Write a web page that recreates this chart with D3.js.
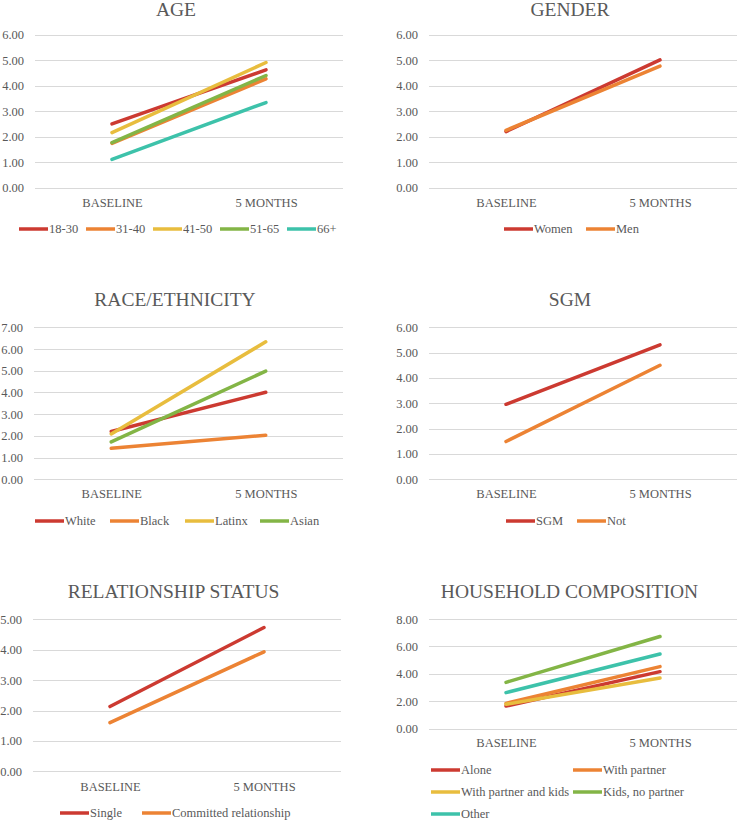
<!DOCTYPE html>
<html>
<head>
<meta charset="utf-8">
<script src="https://cdn.jsdelivr.net/npm/d3@7"></script>
<style>
  html, body { margin: 0; padding: 0; background: #fff; }
  svg { display: block; }
  text { font-family: "Liberation Serif", "Times New Roman", serif; fill: #595959; }
</style>
</head>
<body>
<svg id="chart" width="738" height="820"></svg>
<script>
// ---------- DATA ----------
const categories = ["BASELINE", "5 MONTHS"];

const ageGroups = ["18-30", "31-40", "41-50", "51-65", "66+"];
const ageValues = [[2.50, 4.62], [1.74, 4.27], [2.16, 4.91], [1.77, 4.40], [1.11, 3.34]];

const genderGroups = ["Women", "Men"];
const genderValues = [[2.20, 5.01], [2.25, 4.77]];

const raceGroups = ["White", "Black", "Latinx", "Asian"];
const raceValues = [[2.20, 4.01], [1.43, 2.03], [2.09, 6.33], [1.72, 4.98]];

const sgmGroups = ["SGM", "Not"];
const sgmValues = [[2.96, 5.31], [1.49, 4.50]];

const relGroups = ["Single", "Committed relationship"];
const relValues = [[2.13, 4.73], [1.60, 3.93]];

const houseGroups = ["Alone", "With partner", "With partner and kids", "Kids, no partner", "Other"];
const houseValues = [[1.65, 4.16], [1.85, 4.53], [1.78, 3.70], [3.38, 6.72], [2.63, 5.45]];

const ageTicks = [0, 1, 2, 3, 4, 5, 6];
const genderTicks = [0, 1, 2, 3, 4, 5, 6];
const raceTicks = [0, 1, 2, 3, 4, 5, 6, 7];
const sgmTicks = [0, 1, 2, 3, 4, 5, 6];
const relTicks = [0, 1, 2, 3, 4, 5];
const houseTicks = [0, 2, 4, 6, 8];

const palette = ["#CC3A31", "#EC8334", "#E8BD3E", "#83B546", "#3DC2AA"];

// ---------- LAYOUT ----------
const panels = [
  { title: "AGE", groups: ageGroups, values: ageValues, ticks: ageTicks,
    x0: 35, x1: 343, yTop: 34.7, yBot: 187.7, labelRight: 24,
    titleX: 176, titleY: 16, catY: 207,
    legend: { x: 19, itemW: 67, y: 229, cols: 5, rowH: 22 } },
  { title: "GENDER", groups: genderGroups, values: genderValues, ticks: genderTicks,
    x0: 429, x1: 737, yTop: 34.7, yBot: 187.7, labelRight: 418,
    titleX: 570, titleY: 16, catY: 207,
    legend: { x: 504, itemW: 82, y: 229, cols: 2, rowH: 22 } },
  { title: "RACE/ETHNICITY", groups: raceGroups, values: raceValues, ticks: raceTicks,
    x0: 34, x1: 343, yTop: 327.3, yBot: 479.3, labelRight: 23,
    titleX: 175, titleY: 306, catY: 498,
    legend: { x: 35, itemW: 75, y: 521, cols: 4, rowH: 22 } },
  { title: "SGM", groups: sgmGroups, values: sgmValues, ticks: sgmTicks,
    x0: 429, x1: 737, yTop: 327.3, yBot: 479.3, labelRight: 418,
    titleX: 570, titleY: 306, catY: 498,
    legend: { x: 506, itemW: 71, y: 521, cols: 2, rowH: 22 } },
  { title: "RELATIONSHIP STATUS", groups: relGroups, values: relValues, ticks: relTicks,
    x0: 33, x1: 341, yTop: 619.3, yBot: 771.3, labelRight: 22,
    titleX: 173.5, titleY: 598, catY: 790.5,
    legend: { x: 60, itemW: 82, y: 813, cols: 2, rowH: 22 } },
  { title: "HOUSEHOLD COMPOSITION", groups: houseGroups, values: houseValues, ticks: houseTicks,
    x0: 429, x1: 737, yTop: 619, yBot: 728.7, labelRight: 418,
    titleX: 569.5, titleY: 597.5, catY: 747,
    legend: { x: 431, itemW: 142, y: 770, cols: 2, rowH: 22 } }
];

const svg = d3.select("#chart");
const fmt = d3.format(".2f");

panels.forEach(p => {
  const g = svg.append("g");
  const x = d3.scalePoint().domain(categories).range([p.x0, p.x1]).padding(0.5);
  const y = d3.scaleLinear().domain([0, d3.max(p.ticks)]).range([p.yBot, p.yTop]);

  // title
  g.append("text")
    .attr("x", p.titleX).attr("y", p.titleY)
    .attr("text-anchor", "middle")
    .style("font-size", "19.5px")
    .text(p.title);

  // gridlines
  g.selectAll("line.grid").data(p.ticks).join("line")
    .attr("class", "grid")
    .attr("x1", p.x0).attr("x2", p.x1)
    .attr("y1", d => Math.round(y(d)) + 0.5).attr("y2", d => Math.round(y(d)) + 0.5)
    .attr("stroke", "#D9D9D9").attr("stroke-width", 1);

  // y-axis via d3.axisLeft
  const yAxis = d3.axisLeft(y).tickValues(p.ticks).tickFormat(fmt).tickSize(0).tickPadding(0);
  const ya = g.append("g").attr("transform", `translate(${p.labelRight},0)`).call(yAxis);
  ya.select(".domain").remove();
  ya.selectAll("text")
    .style("font-family", '"Liberation Serif", "Times New Roman", serif')
    .style("font-size", "12.5px").attr("fill", "#595959");

  // x-axis via d3.axisBottom
  const xAxis = d3.axisBottom(x).tickSize(0).tickPadding(0);
  const xa = g.append("g").attr("transform", `translate(0,${p.catY})`).call(xAxis);
  xa.select(".domain").remove();
  xa.selectAll("text")
    .attr("dy", null).attr("y", 0)
    .style("font-family", '"Liberation Serif", "Times New Roman", serif')
    .style("font-size", "12.5px").attr("fill", "#595959");

  // lines
  const line = d3.line().x((d, i) => x(categories[i])).y(d => y(d));
  g.selectAll("path.series").data(p.values).join("path")
    .attr("class", "series")
    .attr("d", d => line(d))
    .attr("fill", "none")
    .attr("stroke", (d, i) => palette[i])
    .attr("stroke-width", 3.5)
    .attr("stroke-linecap", "round");

  // legend
  const L = p.legend;
  const items = g.selectAll("g.leg").data(p.groups).join("g")
    .attr("class", "leg")
    .attr("transform", (d, i) => `translate(${L.x + (i % L.cols) * L.itemW},${L.y + Math.floor(i / L.cols) * L.rowH})`);
  items.append("line")
    .attr("x1", 0).attr("x2", 29).attr("y1", 0).attr("y2", 0)
    .attr("stroke", (d, i) => palette[i]).attr("stroke-width", 3.5);
  items.append("text")
    .attr("x", 30).attr("y", 0).attr("dy", "0.35em")
    .style("font-size", "12.5px")
    .text(d => d);
});
</script>
</body>
</html>
